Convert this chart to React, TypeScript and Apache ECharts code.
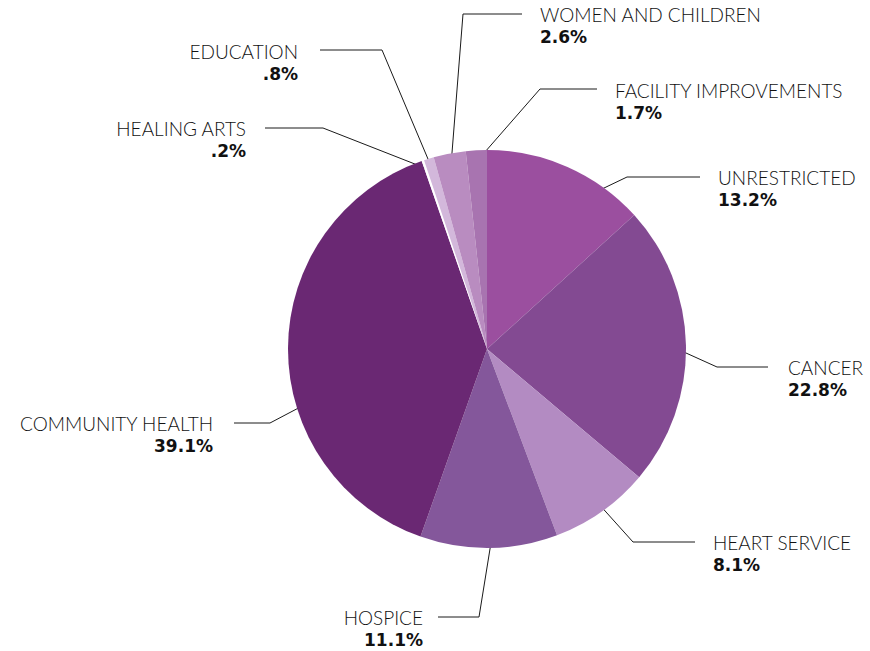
import React, { useEffect, useRef } from 'react';
import * as echarts from 'echarts';

// ---- data ----
const categories = [
  'UNRESTRICTED',
  'CANCER',
  'HEART SERVICE',
  'HOSPICE',
  'COMMUNITY HEALTH',
  'HEALING ARTS',
  'EDUCATION',
  'WOMEN AND CHILDREN',
  'FACILITY IMPROVEMENTS',
];
const shares = [13.2, 22.8, 8.1, 11.1, 39.1, 0.2, 0.8, 2.6, 1.7];

// ---- styles ----
const palette = [
  '#9b4f9f',
  '#834a92',
  '#b38bc2',
  '#84579b',
  '#6a2873',
  '#ffffff',
  '#d3b8db',
  '#b98cc0',
  '#a874b0',
];

const CX = 487;
const CY = 349;
const R = 199;
const NAME_LH = 23;

type Spec = {
  align: 'left' | 'right';
  x: number;
  y: number; // vertical centre of the name line
  elbow: [number, number];
  end: [number, number];
  frac: number; // where the leader starts, as fraction of radius
  turn?: number; // degrees to rotate the leader start
};

const labelSpecs: Record<string, Spec> = {
  'UNRESTRICTED': { align: 'left', x: 718, y: 177, elbow: [627, 177], end: [700, 177], frac: 0.78, turn: 3 },
  'CANCER': { align: 'left', x: 788, y: 367, elbow: [717, 367], end: [768, 367], frac: 0.855, turn: -2 },
  'HEART SERVICE': { align: 'left', x: 713, y: 542, elbow: [633, 542], end: [695, 542], frac: 0.88 },
  'HOSPICE': { align: 'right', x: 423, y: 617, elbow: [479, 617], end: [438, 617], frac: 0.9, turn: -1.5 },
  'COMMUNITY HEALTH': { align: 'right', x: 213, y: 423, elbow: [270, 423], end: [234, 423], frac: 0.865, turn: -16 },
  'HEALING ARTS': { align: 'right', x: 246, y: 128, elbow: [323, 128], end: [265, 128], frac: 0.96 },
  'EDUCATION': { align: 'right', x: 298, y: 51, elbow: [382, 50], end: [320, 50], frac: 0.955 },
  'WOMEN AND CHILDREN': { align: 'left', x: 540, y: 14, elbow: [463, 14], end: [522, 14], frac: 0.955 },
  'FACILITY IMPROVEMENTS': { align: 'left', x: 615, y: 90, elbow: [540, 89], end: [597, 89], frac: 0.945 },
};

const fmt = (v: number) => v.toFixed(1).replace(/^0/, '') + '%';

export default function App() {
  const ref = useRef<HTMLDivElement>(null);

  useEffect(() => {
    document.body.style.margin = '0';
    const chart = echarts.init(ref.current as HTMLDivElement, null, { renderer: 'svg' });
    chart.setOption({
      animation: false,
      backgroundColor: '#ffffff',
      series: [
        {
          type: 'pie',
          center: [CX, CY],
          radius: R,
          startAngle: 90,
          clockwise: true,
          avoidLabelOverlap: false,
          silent: true,
          itemStyle: { borderWidth: 0 },
          data: categories.map((name, i) => ({
            name,
            value: shares[i],
            itemStyle: { color: palette[i] },
          })),
          label: {
            show: true,
            position: 'outside',
            formatter: (p: any) => `{n|${p.name}}\n{v|${fmt(p.value)}}`,
            rich: {
              n: {
                fontFamily: 'Lato',
                fontWeight: 300,
                fontSize: 19,
                lineHeight: NAME_LH,
                color: '#111111',
              },
              v: {
                fontFamily: 'DejaVu Sans',
                fontWeight: 'bold',
                fontSize: 17,
                lineHeight: NAME_LH,
                color: '#111111',
              },
            },
          },
          labelLine: {
            show: true,
            length: 20,
            length2: 20,
            lineStyle: { color: '#1a1a1a', width: 1 },
          },
          labelLayout: (params: any) => {
            const name = categories[params.dataIndex];
            const s = labelSpecs[name];
            const pts = params.labelLinePoints;
            const p0 = pts && pts[0] ? pts[0] : [CX, CY - R];
            let ang = Math.atan2(p0[1] - CY, p0[0] - CX);
            if (s.turn) ang += (s.turn * Math.PI) / 180;
            const start = [CX + Math.cos(ang) * R * s.frac, CY + Math.sin(ang) * R * s.frac];
            return {
              x: s.x,
              y: s.y - NAME_LH / 2,
              align: s.align,
              verticalAlign: 'top',
              labelLinePoints: [start, s.elbow, s.end],
            };
          },
        },
      ],
    });
    return () => chart.dispose();
  }, []);

  return <div ref={ref} style={{ width: 870, height: 651 }} />;
}
